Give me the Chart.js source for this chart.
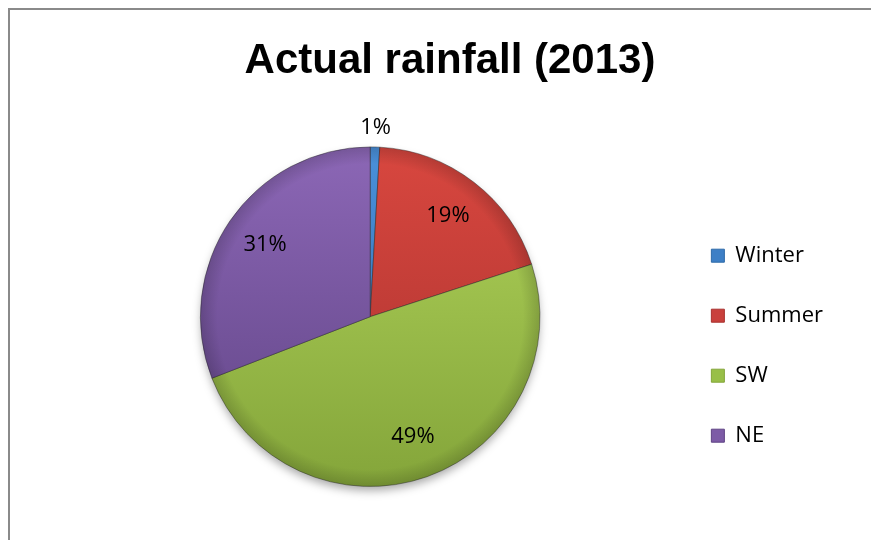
<!DOCTYPE html>
<html>
<head>
<meta charset="utf-8">
<title>Actual rainfall (2013)</title>
<script src="https://cdn.jsdelivr.net/npm/chart.js@4.4.1/dist/chart.umd.min.js"></script>
<style>
    html, body { margin: 0; padding: 0; background: #fff; overflow: hidden; }
    #wrap { position: relative; width: 871px; height: 540px; }
    #frame {
        position: absolute; left: 8px; top: 8px; width: 900px; height: 600px;
        border-left: 2px solid #8a8a8a; border-top: 2px solid #8a8a8a;
        pointer-events: none;
    }
</style>
</head>
<body>
<div id="wrap">
    <canvas id="chart"></canvas>
    <div id="frame"></div>
</div>
<script>
// Chart data
const seasons = ['Winter', 'Summer', 'SW', 'NE'];
const rainfallShare = [0.9, 19.1, 49.1, 30.9];

// Slice colours: base (legend), top and bottom of the shading
const baseColors = ['#3d7fc6', '#c9403c', '#98bf48', '#7d5ba6'];
const lightColors = ['#4a90da', '#d8473f', '#b0d35a', '#8c67b6'];
const darkColors = ['#2e6aa8', '#a8312e', '#84a53a', '#5f4384'];

const labelFont = "'Open Sans', sans-serif";

/**
 * Vertical shading over the pie, lighter on top
 */
function sliceFill(context) {
    const chart = context.chart;
    const area = chart.chartArea;
    const i = context.dataIndex;
    if (!area) return baseColors[i];
    const g = chart.ctx.createLinearGradient(0, area.top, 0, area.bottom);
    g.addColorStop(0, lightColors[i]);
    g.addColorStop(1, darkColors[i]);
    return g;
}

// Shadow under the pie, darker rim on top, and percentage labels
const pieDecor = {
    id: 'pieDecor',
    beforeDatasetsDraw(chart) {
        const arc = chart.getDatasetMeta(0).data[0];
        if (!arc) return;
        const { x, y, outerRadius } = arc.getProps(['x', 'y', 'outerRadius'], true);
        const ctx = chart.ctx;
        ctx.save();
        ctx.shadowColor = 'rgba(0, 0, 0, 0.35)';
        ctx.shadowBlur = 10;
        ctx.shadowOffsetY = 5;
        ctx.fillStyle = '#999';
        ctx.beginPath();
        ctx.arc(x, y, outerRadius - 1, 0, Math.PI * 2);
        ctx.fill();
        ctx.restore();
    },
    afterDatasetsDraw(chart) {
        const meta = chart.getDatasetMeta(0);
        const ctx = chart.ctx;
        const first = meta.data[0];
        if (!first) return;
        const { x, y, outerRadius } = first.getProps(['x', 'y', 'outerRadius'], true);

        // rim shading
        ctx.save();
        const rim = ctx.createRadialGradient(x, y, 0, x, y, outerRadius);
        rim.addColorStop(0, 'rgba(0, 0, 0, 0)');
        rim.addColorStop(0.9, 'rgba(0, 0, 0, 0)');
        rim.addColorStop(1, 'rgba(0, 0, 0, 0.16)');
        ctx.fillStyle = rim;
        ctx.beginPath();
        ctx.arc(x, y, outerRadius, 0, Math.PI * 2);
        ctx.fill();
        ctx.restore();

        // percentage labels
        const total = rainfallShare.reduce((a, b) => a + b, 0);
        ctx.save();
        ctx.font = '22px ' + labelFont;
        ctx.fillStyle = '#000';
        ctx.textAlign = 'center';
        ctx.textBaseline = 'middle';
        meta.data.forEach((el, i) => {
            const p = el.getProps(['x', 'y', 'startAngle', 'endAngle', 'outerRadius'], true);
            const mid = (p.startAngle + p.endAngle) / 2;
            const pct = rainfallShare[i] / total * 100;
            const dist = pct < 3 ? p.outerRadius + 19 : p.outerRadius * 0.75;
            const lx = p.x + Math.cos(mid) * dist;
            const ly = p.y + Math.sin(mid) * dist;
            ctx.fillText(Math.round(pct) + '%', lx, ly);
        });
        ctx.restore();
    }
};

const ctx = document.getElementById('chart');
new Chart(ctx, {
    type: 'pie',
    data: {
        labels: seasons,
        datasets: [{
            data: rainfallShare,
            backgroundColor: sliceFill,
            borderColor: 'rgba(40, 40, 40, 0.45)',
            borderWidth: 1
        }]
    },
    plugins: [pieDecor],
    options: {
        responsive: true,
        maintainAspectRatio: false,
        animation: false,
        layout: {
            padding: { left: 67, right: 38, top: 0, bottom: 53 }
        },
        plugins: {
            title: {
                display: true,
                text: 'Actual rainfall (2013)',
                color: '#000',
                font: { family: "'Liberation Sans', Arial, sans-serif", size: 42, weight: 'bold', lineHeight: 1.2 },
                padding: { top: 36, bottom: 60 }
            },
            legend: {
                position: 'right',
                fullSize: false,
                title: {
                    display: true,
                    text: '',
                    font: { size: 10, lineHeight: 1 },
                    padding: { top: 48, bottom: 0 }
                },
                labels: {
                    color: '#000',
                    boxWidth: 13,
                    boxHeight: 13,
                    padding: 38,
                    font: { family: labelFont, size: 22 },
                    generateLabels(chart) {
                        const items = Chart.overrides.pie.plugins.legend.labels.generateLabels(chart);
                        items.forEach((item, i) => {
                            item.fillStyle = baseColors[i];
                            item.strokeStyle = darkColors[i];
                            item.lineWidth = 1;
                        });
                        return items;
                    }
                }
            },
            tooltip: { enabled: false }
        }
    }
});
</script>
</body>
</html>
